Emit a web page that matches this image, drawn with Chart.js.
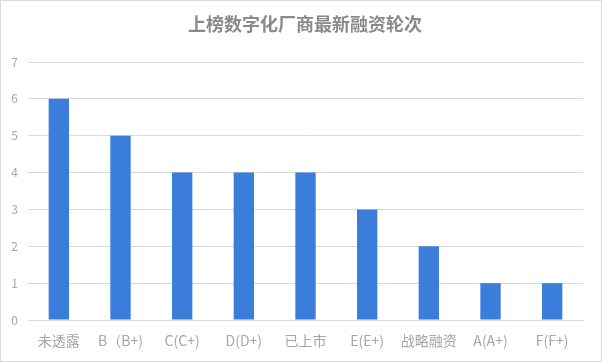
<!DOCTYPE html>
<html>
<head>
<meta charset="utf-8">
<script src="https://cdn.jsdelivr.net/npm/chart.js@4/dist/chart.umd.min.js"></script>
<style>
  html,body{margin:0;padding:0;background:#fff;}
  #wrap{width:602px;height:362px;position:relative;}
</style>
</head>
<body>
<div id="wrap"><canvas id="c"></canvas></div>
<script>
const titleText = "上榜数字化厂商最新融资轮次";
const categories = ["未透露", "B（B+)", "C(C+)", "D(D+)", "已上市", "E(E+)", "战略融资", "A(A+)", "F(F+)"];
const counts = [6, 5, 4, 4, 4, 3, 2, 1, 1];
const yTicks = [0, 1, 2, 3, 4, 5, 6, 7];

const FONT = "'Noto Sans CJK SC', 'Noto Sans', sans-serif";

// grey frame and the title
const frame = {
  id: "frame",
  afterDraw(chart){
    const c = chart.ctx;
    c.save();
    c.strokeStyle = "#d9d9d9";
    c.lineWidth = 1;
    c.strokeRect(0.5, 0.5, chart.width - 1, chart.height - 1);
    c.fillStyle = "#8a8a8a";
    c.font = "bold 18px " + FONT;
    c.textAlign = "center";
    c.textBaseline = "middle";
    c.fillText(titleText, 305, 24);
    c.restore();
  }
};

new Chart(document.getElementById("c"), {
  type: "bar",
  data: {
    labels: categories,
    datasets: [{
      data: counts,
      backgroundColor: "#3a7ddb",
      categoryPercentage: 1,
      barPercentage: 0.33
    }]
  },
  options: {
    responsive: true,
    maintainAspectRatio: false,
    animation: false,
    layout: { padding: { left: 0, right: 19, top: 62, bottom: 0 } },
    plugins: {
      legend: { display: false },
      tooltip: { enabled: false },
      title: { display: false }
    },
    scales: {
      x: {
        grid: { display: false },
        border: { color: "#d9d9d9" },
        ticks: { color: "#a6a6a6", font: { family: FONT, size: 14 }, padding: 4, maxRotation: 0, autoSkip: false },
        afterFit(s){ s.height = 42; }
      },
      y: {
        min: 0, max: 7,
        afterBuildTicks(s){ s.ticks = yTicks.map(v => ({ value: v })); },
        grid: { color: "#d9d9d9", drawTicks: false },
        border: { display: false },
        ticks: { color: "#a6a6a6", font: { family: FONT, size: 12 }, padding: 10 },
        afterFit(s){ s.width = 28; }
      }
    }
  },
  plugins: [frame]
});
</script>
</body>
</html>
